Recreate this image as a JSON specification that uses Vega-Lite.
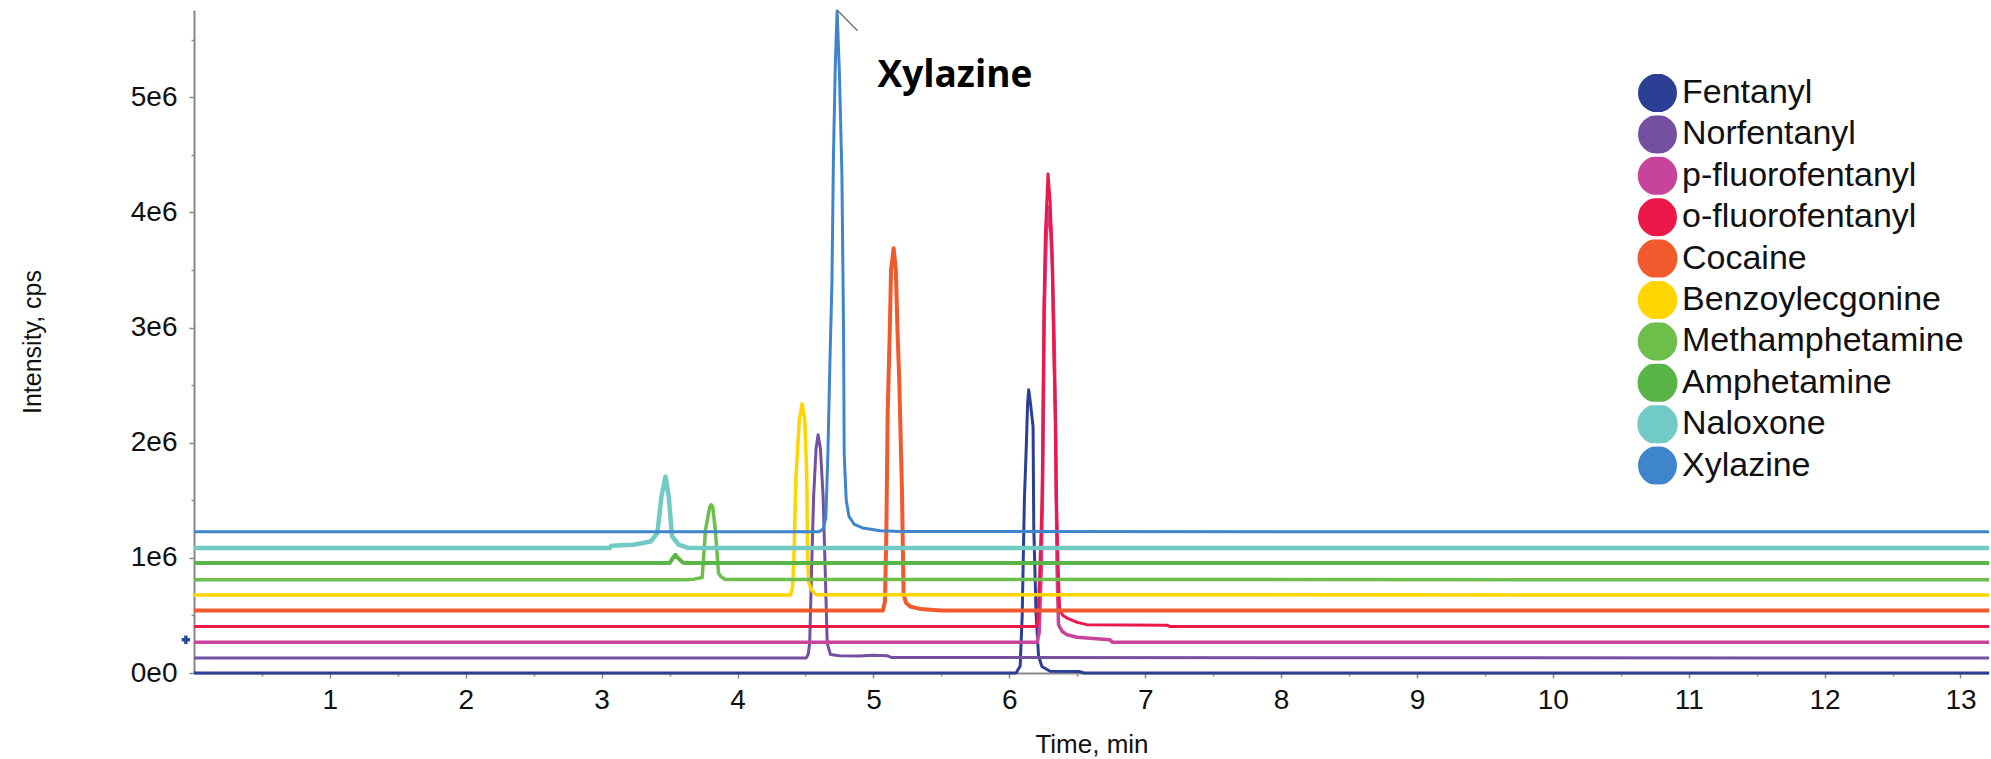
{
  "$schema": "https://vega.github.io/schema/vega-lite/v6.json",
  "width": 1795,
  "height": 663,
  "autosize": {"type": "none"},
  "padding": {"left": 194, "top": 10, "right": 2, "bottom": 86},
  "background": "white",
  "config": {"view": {"stroke": null}},
  "datasets": {
    "traces": [
      {"compound": "Fentanyl", "t": 0, "i": 0},
      {"compound": "Fentanyl", "t": 6.05, "i": 0},
      {"compound": "Fentanyl", "t": 6.08, "i": 60000},
      {"compound": "Fentanyl", "t": 6.095, "i": 500000},
      {"compound": "Fentanyl", "t": 6.111, "i": 1500000},
      {"compound": "Fentanyl", "t": 6.126, "i": 2000000},
      {"compound": "Fentanyl", "t": 6.135, "i": 2350000},
      {"compound": "Fentanyl", "t": 6.143, "i": 2459000},
      {"compound": "Fentanyl", "t": 6.155, "i": 2350000},
      {"compound": "Fentanyl", "t": 6.175, "i": 2140000},
      {"compound": "Fentanyl", "t": 6.18, "i": 1270000},
      {"compound": "Fentanyl", "t": 6.197, "i": 520000},
      {"compound": "Fentanyl", "t": 6.215, "i": 150000},
      {"compound": "Fentanyl", "t": 6.24, "i": 57000},
      {"compound": "Fentanyl", "t": 6.3, "i": 15000},
      {"compound": "Fentanyl", "t": 6.52, "i": 12000},
      {"compound": "Fentanyl", "t": 6.55, "i": 0},
      {"compound": "Fentanyl", "t": 13.21, "i": 0},

      {"compound": "Norfentanyl", "t": 0, "i": 130000},
      {"compound": "Norfentanyl", "t": 4.505, "i": 130000},
      {"compound": "Norfentanyl", "t": 4.52, "i": 160000},
      {"compound": "Norfentanyl", "t": 4.531, "i": 260000},
      {"compound": "Norfentanyl", "t": 4.545, "i": 900000},
      {"compound": "Norfentanyl", "t": 4.56, "i": 1530000},
      {"compound": "Norfentanyl", "t": 4.578, "i": 1950000},
      {"compound": "Norfentanyl", "t": 4.593, "i": 2069000},
      {"compound": "Norfentanyl", "t": 4.61, "i": 1950000},
      {"compound": "Norfentanyl", "t": 4.63, "i": 1530000},
      {"compound": "Norfentanyl", "t": 4.645, "i": 900000},
      {"compound": "Norfentanyl", "t": 4.66, "i": 260000},
      {"compound": "Norfentanyl", "t": 4.684, "i": 160000},
      {"compound": "Norfentanyl", "t": 4.75, "i": 150000},
      {"compound": "Norfentanyl", "t": 4.9, "i": 148000},
      {"compound": "Norfentanyl", "t": 5.0, "i": 155000},
      {"compound": "Norfentanyl", "t": 5.1, "i": 150000},
      {"compound": "Norfentanyl", "t": 5.13, "i": 135000},
      {"compound": "Norfentanyl", "t": 13.21, "i": 130000},

      {"compound": "p-fluorofentanyl", "t": 0, "i": 266000},
      {"compound": "p-fluorofentanyl", "t": 6.205, "i": 266000},
      {"compound": "p-fluorofentanyl", "t": 6.22, "i": 350000},
      {"compound": "p-fluorofentanyl", "t": 6.235, "i": 900000},
      {"compound": "p-fluorofentanyl", "t": 6.247, "i": 1800000},
      {"compound": "p-fluorofentanyl", "t": 6.258, "i": 3180000},
      {"compound": "p-fluorofentanyl", "t": 6.272, "i": 3800000},
      {"compound": "p-fluorofentanyl", "t": 6.29, "i": 4050000},
      {"compound": "p-fluorofentanyl", "t": 6.305, "i": 3850000},
      {"compound": "p-fluorofentanyl", "t": 6.318, "i": 3500000},
      {"compound": "p-fluorofentanyl", "t": 6.33, "i": 2900000},
      {"compound": "p-fluorofentanyl", "t": 6.342, "i": 2000000},
      {"compound": "p-fluorofentanyl", "t": 6.352, "i": 900000},
      {"compound": "p-fluorofentanyl", "t": 6.362, "i": 420000},
      {"compound": "p-fluorofentanyl", "t": 6.39, "i": 360000},
      {"compound": "p-fluorofentanyl", "t": 6.425, "i": 332000},
      {"compound": "p-fluorofentanyl", "t": 6.5, "i": 310000},
      {"compound": "p-fluorofentanyl", "t": 6.57, "i": 304000},
      {"compound": "p-fluorofentanyl", "t": 6.74, "i": 289000},
      {"compound": "p-fluorofentanyl", "t": 6.76, "i": 266000},
      {"compound": "p-fluorofentanyl", "t": 13.21, "i": 266000},

      {"compound": "o-fluorofentanyl", "t": 0, "i": 404000},
      {"compound": "o-fluorofentanyl", "t": 6.195, "i": 404000},
      {"compound": "o-fluorofentanyl", "t": 6.21, "i": 450000},
      {"compound": "o-fluorofentanyl", "t": 6.225, "i": 900000},
      {"compound": "o-fluorofentanyl", "t": 6.242, "i": 1530000},
      {"compound": "o-fluorofentanyl", "t": 6.255, "i": 3150000},
      {"compound": "o-fluorofentanyl", "t": 6.265, "i": 3790000},
      {"compound": "o-fluorofentanyl", "t": 6.285, "i": 4334000},
      {"compound": "o-fluorofentanyl", "t": 6.3, "i": 4100000},
      {"compound": "o-fluorofentanyl", "t": 6.315, "i": 3650000},
      {"compound": "o-fluorofentanyl", "t": 6.327, "i": 2830000},
      {"compound": "o-fluorofentanyl", "t": 6.34, "i": 2200000},
      {"compound": "o-fluorofentanyl", "t": 6.345, "i": 1530000},
      {"compound": "o-fluorofentanyl", "t": 6.36, "i": 900000},
      {"compound": "o-fluorofentanyl", "t": 6.37, "i": 550000},
      {"compound": "o-fluorofentanyl", "t": 6.395, "i": 500000},
      {"compound": "o-fluorofentanyl", "t": 6.425, "i": 477000},
      {"compound": "o-fluorofentanyl", "t": 6.5, "i": 440000},
      {"compound": "o-fluorofentanyl", "t": 6.57, "i": 420000},
      {"compound": "o-fluorofentanyl", "t": 7.16, "i": 415000},
      {"compound": "o-fluorofentanyl", "t": 7.18, "i": 404000},
      {"compound": "o-fluorofentanyl", "t": 13.21, "i": 404000},

      {"compound": "Cocaine", "t": 0, "i": 543000},
      {"compound": "Cocaine", "t": 5.07, "i": 543000},
      {"compound": "Cocaine", "t": 5.085, "i": 620000},
      {"compound": "Cocaine", "t": 5.095, "i": 1200000},
      {"compound": "Cocaine", "t": 5.105, "i": 2260000},
      {"compound": "Cocaine", "t": 5.12, "i": 2950000},
      {"compound": "Cocaine", "t": 5.13, "i": 3500000},
      {"compound": "Cocaine", "t": 5.149, "i": 3689000},
      {"compound": "Cocaine", "t": 5.165, "i": 3500000},
      {"compound": "Cocaine", "t": 5.178, "i": 2950000},
      {"compound": "Cocaine", "t": 5.19, "i": 2550000},
      {"compound": "Cocaine", "t": 5.21, "i": 1590000},
      {"compound": "Cocaine", "t": 5.222, "i": 680000},
      {"compound": "Cocaine", "t": 5.24, "i": 610000},
      {"compound": "Cocaine", "t": 5.27, "i": 578000},
      {"compound": "Cocaine", "t": 5.35, "i": 555000},
      {"compound": "Cocaine", "t": 5.42, "i": 549000},
      {"compound": "Cocaine", "t": 5.5, "i": 543000},
      {"compound": "Cocaine", "t": 13.21, "i": 543000},

      {"compound": "Benzoylecgonine", "t": 0, "i": 677000},
      {"compound": "Benzoylecgonine", "t": 4.39, "i": 677000},
      {"compound": "Benzoylecgonine", "t": 4.405, "i": 750000},
      {"compound": "Benzoylecgonine", "t": 4.415, "i": 1000000},
      {"compound": "Benzoylecgonine", "t": 4.43, "i": 1700000},
      {"compound": "Benzoylecgonine", "t": 4.455, "i": 2200000},
      {"compound": "Benzoylecgonine", "t": 4.475, "i": 2338000},
      {"compound": "Benzoylecgonine", "t": 4.495, "i": 2200000},
      {"compound": "Benzoylecgonine", "t": 4.51, "i": 1700000},
      {"compound": "Benzoylecgonine", "t": 4.515, "i": 1000000},
      {"compound": "Benzoylecgonine", "t": 4.525, "i": 780000},
      {"compound": "Benzoylecgonine", "t": 4.545, "i": 720000},
      {"compound": "Benzoylecgonine", "t": 4.58, "i": 680000},
      {"compound": "Benzoylecgonine", "t": 13.21, "i": 677000},

      {"compound": "Methamphetamine", "t": 0, "i": 810000},
      {"compound": "Methamphetamine", "t": 3.62, "i": 810000},
      {"compound": "Methamphetamine", "t": 3.68, "i": 815000},
      {"compound": "Methamphetamine", "t": 3.74, "i": 830000},
      {"compound": "Methamphetamine", "t": 3.764, "i": 1240000},
      {"compound": "Methamphetamine", "t": 3.795, "i": 1440000},
      {"compound": "Methamphetamine", "t": 3.806, "i": 1461000},
      {"compound": "Methamphetamine", "t": 3.818, "i": 1440000},
      {"compound": "Methamphetamine", "t": 3.837, "i": 1240000},
      {"compound": "Methamphetamine", "t": 3.86, "i": 870000},
      {"compound": "Methamphetamine", "t": 3.875, "i": 840000},
      {"compound": "Methamphetamine", "t": 3.91, "i": 812000},
      {"compound": "Methamphetamine", "t": 13.21, "i": 810000},

      {"compound": "Amphetamine", "t": 0, "i": 955000},
      {"compound": "Amphetamine", "t": 3.5, "i": 955000},
      {"compound": "Amphetamine", "t": 3.525, "i": 1000000},
      {"compound": "Amphetamine", "t": 3.543, "i": 1027000},
      {"compound": "Amphetamine", "t": 3.56, "i": 1000000},
      {"compound": "Amphetamine", "t": 3.6, "i": 958000},
      {"compound": "Amphetamine", "t": 3.62, "i": 955000},
      {"compound": "Amphetamine", "t": 13.21, "i": 955000},

      {"compound": "Naloxone", "t": 0, "i": 1085000},
      {"compound": "Naloxone", "t": 3.06, "i": 1085000},
      {"compound": "Naloxone", "t": 3.07, "i": 1105000},
      {"compound": "Naloxone", "t": 3.234, "i": 1114000},
      {"compound": "Naloxone", "t": 3.36, "i": 1142000},
      {"compound": "Naloxone", "t": 3.41, "i": 1215000},
      {"compound": "Naloxone", "t": 3.44, "i": 1530000},
      {"compound": "Naloxone", "t": 3.47, "i": 1707000},
      {"compound": "Naloxone", "t": 3.494, "i": 1530000},
      {"compound": "Naloxone", "t": 3.518, "i": 1186000},
      {"compound": "Naloxone", "t": 3.567, "i": 1114000},
      {"compound": "Naloxone", "t": 3.63, "i": 1088000},
      {"compound": "Naloxone", "t": 3.7, "i": 1085000},
      {"compound": "Naloxone", "t": 13.21, "i": 1085000},

      {"compound": "Xylazine", "t": 0, "i": 1227000},
      {"compound": "Xylazine", "t": 4.6, "i": 1227000},
      {"compound": "Xylazine", "t": 4.63, "i": 1250000},
      {"compound": "Xylazine", "t": 4.65, "i": 1350000},
      {"compound": "Xylazine", "t": 4.665, "i": 1900000},
      {"compound": "Xylazine", "t": 4.68, "i": 2700000},
      {"compound": "Xylazine", "t": 4.695, "i": 3400000},
      {"compound": "Xylazine", "t": 4.706, "i": 4500000},
      {"compound": "Xylazine", "t": 4.72, "i": 5300000},
      {"compound": "Xylazine", "t": 4.733, "i": 5750000},
      {"compound": "Xylazine", "t": 4.75, "i": 5200000},
      {"compound": "Xylazine", "t": 4.768, "i": 4350000},
      {"compound": "Xylazine", "t": 4.78, "i": 3000000},
      {"compound": "Xylazine", "t": 4.785, "i": 1900000},
      {"compound": "Xylazine", "t": 4.8, "i": 1500000},
      {"compound": "Xylazine", "t": 4.82, "i": 1360000},
      {"compound": "Xylazine", "t": 4.86, "i": 1290000},
      {"compound": "Xylazine", "t": 4.92, "i": 1260000},
      {"compound": "Xylazine", "t": 5.05, "i": 1235000},
      {"compound": "Xylazine", "t": 5.2, "i": 1228000},
      {"compound": "Xylazine", "t": 13.21, "i": 1227000}
    ],
    "pointer": [
      {"t": 4.733, "i": 5758000, "t2": 4.883, "i2": 5578000}
    ],
    "labels": [
      {"t": 5.03, "i": 5092000, "label": "Xylazine"}
    ],
    "marker": [
      {"t": -0.06, "i": 289000}
    ]
  },
  "encoding": {
    "x": {
      "field": "t",
      "type": "quantitative",
      "scale": {"domain": [0, 13.21], "nice": false, "zero": false},
      "axis": {
        "title": "Time, min",
        "values": [0.5, 1, 1.5, 2, 2.5, 3, 3.5, 4, 4.5, 5, 5.5, 6, 6.5, 7, 7.5, 8, 8.5, 9, 9.5, 10, 10.5, 11, 11.5, 12, 12.5, 13],
        "labelExpr": "datum.value % 1 === 0 ? format(datum.value, 'd') : ''",
        "tickSize": {"condition": {"test": "datum.value % 1 === 0", "value": 5}, "value": 3},
        "tickColor": "#888888",
        "tickWidth": 1.5,
        "domainColor": "#888888",
        "domainWidth": 2,
        "grid": false,
        "labelFont": "Liberation Sans, Arial, sans-serif",
        "labelFontSize": 28,
        "labelColor": "#111111",
        "labelPadding": 8,
        "labelFlush": false,
        "labelOverlap": false,
        "titleFont": "Liberation Sans, Arial, sans-serif",
        "titleFontSize": 26,
        "titleFontWeight": "normal",
        "titleColor": "#111111",
        "titleBaseline": "alphabetic",
        "titleY": 79
      }
    },
    "y": {
      "field": "i",
      "type": "quantitative",
      "scale": {"domain": [0, 5758000], "nice": false},
      "axis": {
        "title": "Intensity, cps",
        "values": [0, 500000, 1000000, 1500000, 2000000, 2500000, 3000000, 3500000, 4000000, 4500000, 5000000, 5500000],
        "labelExpr": "datum.value % 1000000 === 0 ? replace(format(datum.value, '.0e'), '+', '') : ''",
        "tickSize": {"condition": {"test": "datum.value % 1000000 === 0", "value": 5}, "value": 3},
        "tickColor": "#888888",
        "tickWidth": 1.5,
        "domainColor": "#888888",
        "domainWidth": 2,
        "grid": false,
        "labelFont": "Liberation Sans, Arial, sans-serif",
        "labelFontSize": 28,
        "labelColor": "#111111",
        "labelPadding": 12,
        "labelFlush": false,
        "labelOverlap": false,
        "titleFont": "Liberation Sans, Arial, sans-serif",
        "titleFontSize": 25,
        "titleFontWeight": "normal",
        "titleColor": "#111111",
        "titleBaseline": "alphabetic",
        "titleX": -154
      }
    }
  },
  "layer": [
    {
      "data": {"name": "traces"},
      "mark": {"type": "line", "strokeJoin": "round"},
      "encoding": {
        "color": {
          "field": "compound",
          "type": "nominal",
          "scale": {
            "domain": ["Fentanyl", "Norfentanyl", "p-fluorofentanyl", "o-fluorofentanyl", "Cocaine", "Benzoylecgonine", "Methamphetamine", "Amphetamine", "Naloxone", "Xylazine"],
            "range": ["#2B3F94", "#7450A0", "#C8449B", "#EC1849", "#F05A2C", "#FFD500", "#6DBE4B", "#5AB548", "#72CAC4", "#3F85CC"]
          },
          "legend": {
            "orient": "none",
            "legendX": 1443,
            "legendY": 64,
            "title": null,
            "padding": 0,
            "symbolType": "circle",
            "symbolSize": 1296,
            "symbolStrokeWidth": 1.5,
            "symbolStrokeColor": "#4a4a4a",
            "clipHeight": 38,
            "labelFont": "Liberation Sans, Arial, sans-serif",
            "labelFontSize": 34,
            "labelColor": "#111111",
            "labelOffset": 4,
            "labelLimit": 500,
            "rowPadding": 3.4,
            "encode": {
              "symbols": {
                "update": {
                  "fill": {"scale": "color", "field": "value"},
                  "stroke": {"value": "#4a4a4a"},
                  "strokeWidth": {"value": 1.5},
                  "opacity": {"value": 1}
                }
              }
            }
          }
        },
        "strokeWidth": {
          "field": "compound",
          "type": "nominal",
          "scale": {
            "type": "ordinal",
            "domain": ["Fentanyl", "Norfentanyl", "p-fluorofentanyl", "o-fluorofentanyl", "Cocaine", "Benzoylecgonine", "Methamphetamine", "Amphetamine", "Naloxone", "Xylazine"],
            "range": [3, 3, 3.5, 3, 4, 3.5, 3.5, 4, 4.5, 3]
          },
          "legend": null
        }
      }
    },
    {
      "data": {"name": "pointer"},
      "mark": {"type": "rule", "color": "#777777", "strokeWidth": 1.5},
      "encoding": {
        "x2": {"field": "t2"},
        "y2": {"field": "i2"}
      }
    },
    {
      "data": {"name": "labels"},
      "mark": {"type": "text", "align": "left", "baseline": "alphabetic", "font": "Open Sans", "fontWeight": "bold", "fontSize": 37, "color": "#000000"},
      "encoding": {
        "text": {"field": "label", "type": "nominal"}
      }
    },
    {
      "data": {"name": "marker"},
      "mark": {"type": "point", "shape": "cross", "filled": true, "size": 70, "color": "#2B4A9A", "opacity": 1, "clip": false},
      "encoding": {}
    }
  ]
}
